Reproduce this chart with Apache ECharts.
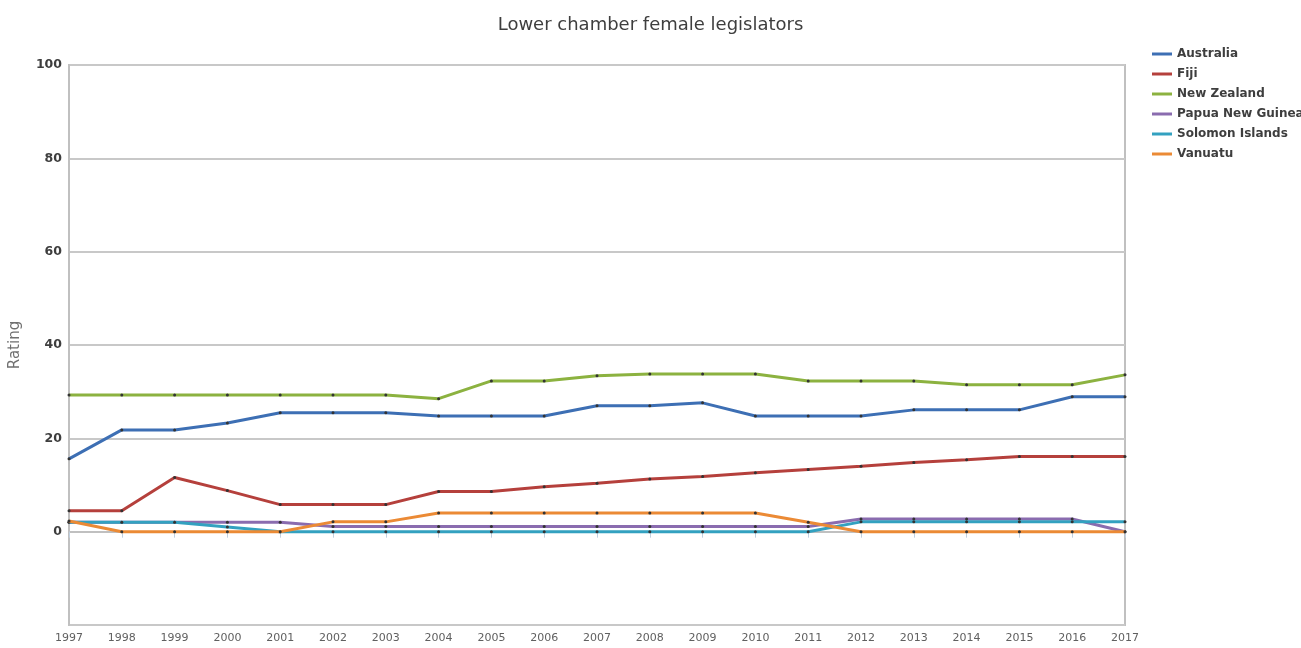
<!DOCTYPE html>
<html>
<head>
<meta charset="utf-8">
<script src="https://cdn.jsdelivr.net/npm/echarts@6/dist/echarts.min.js"></script>
<style>
  html, body { margin: 0; padding: 0; background: #fff; }
  #chart { width: 1301px; height: 648px; }
</style>
</head>
<body>
<div id="chart"></div>
<script>
var years = ['1997', '1998', '1999', '2000', '2001', '2002', '2003', '2004', '2005', '2006', '2007',
  '2008', '2009', '2010', '2011', '2012', '2013', '2014', '2015', '2016', '2017'];

var australia = [15.6, 21.8, 21.8, 23.3, 25.5, 25.5, 25.5, 24.8, 24.8, 24.8, 27.0,
  27.0, 27.6, 24.8, 24.8, 24.8, 26.1, 26.1, 26.1, 28.9, 28.9];
var fiji = [4.5, 4.5, 11.6, 8.8, 5.8, 5.8, 5.8, 8.6, 8.6, 9.6, 10.4,
  11.3, 11.8, 12.6, 13.3, 14.0, 14.8, 15.4, 16.1, 16.1, 16.1];
var newZealand = [29.3, 29.3, 29.3, 29.3, 29.3, 29.3, 29.3, 28.5, 32.3, 32.3, 33.4,
  33.8, 33.8, 33.8, 32.3, 32.3, 32.3, 31.5, 31.5, 31.5, 33.6];
var papuaNewGuinea = [2.0, 2.0, 2.0, 2.0, 2.0, 1.1, 1.1, 1.1, 1.1, 1.1, 1.1,
  1.1, 1.1, 1.1, 1.1, 2.7, 2.7, 2.7, 2.7, 2.7, 0];
var solomonIslands = [2.0, 2.0, 2.0, 1.0, 0, 0, 0, 0, 0, 0, 0,
  0, 0, 0, 0, 2.1, 2.1, 2.1, 2.1, 2.1, 2.1];
var vanuatu = [2.3, 0, 0, 0, 0, 2.1, 2.1, 4.0, 4.0, 4.0, 4.0,
  4.0, 4.0, 4.0, 2.0, 0, 0, 0, 0, 0, 0];

var yTicks = [-20, 0, 20, 40, 60, 80, 100];

var seriesNames = ['Australia', 'Fiji', 'New Zealand', 'Papua New Guinea', 'Solomon Islands', 'Vanuatu'];
var seriesData = [australia, fiji, newZealand, papuaNewGuinea, solomonIslands, vanuatu];
var colors = ['#3D6FB4', '#B5403C', '#8CB240', '#8A6CAF', '#33A1C0', '#EB8A35'];

var chart = echarts.init(document.getElementById('chart'), null, { renderer: 'canvas' });

var series = seriesNames.map(function (name, i) {
  return {
    name: name,
    type: 'line',
    data: seriesData[i],
    symbol: 'circle',
    symbolSize: 3,
    showSymbol: true,
    itemStyle: { color: '#333' },
    lineStyle: { color: colors[i], width: 3 },
    emphasis: { disabled: true },
    z: 2 + i
  };
});

var option = {
  animation: false,
  textStyle: { fontFamily: 'DejaVu Sans' },
  title: {
    text: 'Lower chamber female legislators',
    left: 'center',
    top: 11,
    textStyle: { fontSize: 18, fontWeight: 'normal', color: '#3E3E3E', fontFamily: 'DejaVu Sans' }
  },
  legend: {
    orient: 'vertical',
    left: 1147,
    top: 42,
    itemGap: 6,
    itemWidth: 20,
    itemHeight: 3,
    icon: 'rect',
    textStyle: { fontSize: 12, fontWeight: 'bold', color: '#3E3E3E', lineHeight: 14 },
    data: seriesNames.map(function (n, i) {
      return { name: n, itemStyle: { color: colors[i] } };
    })
  },
  grid: {
    left: 68,
    right: 176,
    top: 65,
    bottom: 23,
    show: true,
    borderColor: '#C0C0C0',
    borderWidth: 2,
    containLabel: false
  },
  xAxis: {
    type: 'category',
    data: years,
    boundaryGap: false,
    axisLine: { show: true, lineStyle: { color: '#C0C0C0', width: 2 } },
    axisTick: { show: true, length: 6, lineStyle: { color: '#C0D0E0' } },
    axisLabel: { color: '#606060', fontSize: 11, margin: 8 }
  },
  yAxis: {
    type: 'value',
    min: yTicks[0],
    max: yTicks[yTicks.length - 1],
    interval: 20,
    name: 'Rating',
    nameLocation: 'middle',
    nameGap: 46,
    nameTextStyle: { color: '#707070', fontSize: 15 },
    axisLine: { show: true, lineStyle: { color: '#C0C0C0', width: 2 } },
    axisTick: { show: false },
    splitLine: { lineStyle: { color: '#C8C8C8', width: 2 } },
    axisLabel: {
      color: '#3E3E3E',
      fontSize: 12.5,
      fontWeight: 'bold',
      margin: 7,
      formatter: function (v) { return v < 0 ? '' : v; }
    }
  },
  series: series
};

chart.setOption(option);
window.addEventListener('resize', chart.resize);
</script>
</body>
</html>
